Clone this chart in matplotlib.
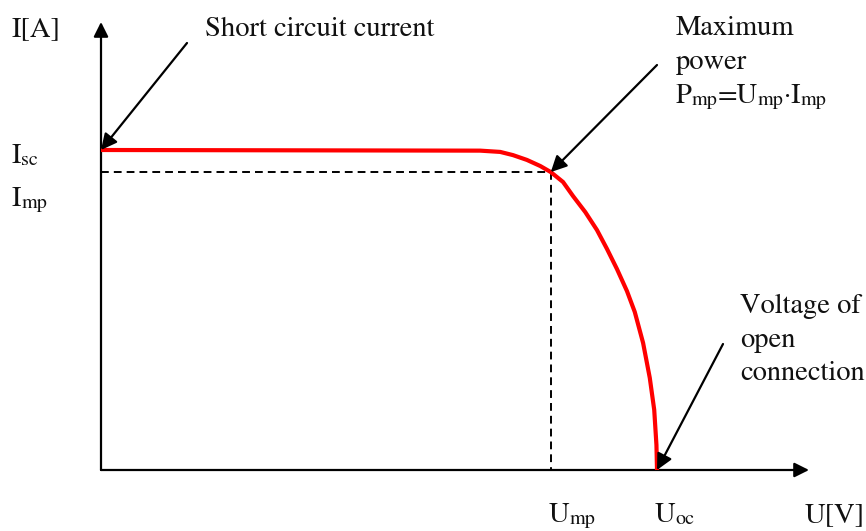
import matplotlib
matplotlib.use("Agg")
import matplotlib.pyplot as plt

plt.rcParams['font.family'] = ['STIXGeneral', 'DejaVu Serif']

# ---- data (normalised: U_oc = 1, I_sc = 1) ----
U = [0.0, 0.682, 0.718, 0.741, 0.766, 0.790, 0.809, 0.831, 0.849, 0.871,
     0.892, 0.910, 0.928, 0.946, 0.960, 0.975, 0.987, 0.995, 0.999, 1.0]
I = [1.0, 0.998, 0.994, 0.984, 0.969, 0.950, 0.931, 0.900, 0.856, 0.806,
     0.750, 0.691, 0.628, 0.559, 0.494, 0.397, 0.288, 0.188, 0.078, 0.0]
U_mp = 0.809
I_mp = 0.931
U_oc = 1.0
I_sc = 1.0

# ---- figure geometry: origin at pixel (101, 470), 556 px per U unit, 320 px per I unit ----
W, H = 866, 531
OX, OY, SX, SY = 101, 470, 556, 320

def d(px, py):
    return ((px - OX) / SX, (OY - py) / SY)

fig = plt.figure(figsize=(W / 100, H / 100), dpi=100)
ax = fig.add_axes([0, 0, 1, 1])
ax.set_xlim(-OX / SX, (W - OX) / SX)
ax.set_ylim(-(H - OY) / SY, OY / SY)
ax.axis('off')

# axes with arrows
arr_axis = dict(arrowstyle='-|>', color='black', lw=1.6, mutation_scale=22,
                shrinkA=0, shrinkB=0)
ax.annotate('', xy=d(809, OY), xytext=(0, 0), arrowprops=arr_axis)
ax.annotate('', xy=d(OX, 22), xytext=(0, 0), arrowprops=arr_axis)

# dashed guide lines
ax.plot([0, U_mp], [I_mp, I_mp], color='black', lw=1.4, ls=(0, (4, 2.6)))
ax.plot([U_mp, U_mp], [I_mp, 0], color='black', lw=1.4, ls=(0, (4, 2.6)))

# I-V curve
ax.plot(U, I, color='#ff0000', lw=3.0, solid_capstyle='butt',
        solid_joinstyle='round', zorder=3)

# annotation arrows
arr = dict(arrowstyle='-|>', color='black', lw=1.6, mutation_scale=24,
           shrinkA=0, shrinkB=0)
ax.annotate('', xy=(0, I_sc), xytext=d(187, 43), arrowprops=arr, zorder=5)
ax.annotate('', xy=(U_mp, I_mp), xytext=d(657, 65), arrowprops=arr, zorder=5)
ax.annotate('', xy=(U_oc, 0), xytext=d(723, 344), arrowprops=arr, zorder=5)

fs = 20.5
sub = 14.5
col = '#111111'
renderer = fig.canvas.get_renderer()

def txt(px, py, s):
    x, y = d(px, py)
    ax.text(x, y, s, fontsize=fs, ha='left', va='baseline', color=col)

def pieces(px, py, parts):
    cx = px
    for s, size, dy in parts:
        x, y = d(cx, py + dy)
        t = ax.text(x, y, s, fontsize=size, ha='left', va='baseline', color=col)
        cx += t.get_window_extent(renderer).width

txt(12, 36, 'I[A]')
txt(205, 36, 'Short circuit current')
txt(676, 35, 'Maximum')
txt(676, 69, 'power')
pieces(676, 103, [('P', fs, 0), ('mp', sub, 2), ('=U', fs, 0), ('mp', sub, 2),
                  ('\u00b7I', fs, 0), ('mp', sub, 2)])
txt(740, 313, 'Voltage of')
txt(740, 347, 'open')
txt(740, 380, 'connection')
pieces(12, 163, [('I', fs, 0), ('sc', sub, 2)])
pieces(12, 206, [('I', fs, 0), ('mp', sub, 2)])
pieces(549, 522, [('U', fs, 0), ('mp', sub, 2)])
pieces(655, 522, [('U', fs, 0), ('oc', sub, 2)])
txt(805, 522, 'U[V]')

fig.savefig('out.png', dpi=100)
